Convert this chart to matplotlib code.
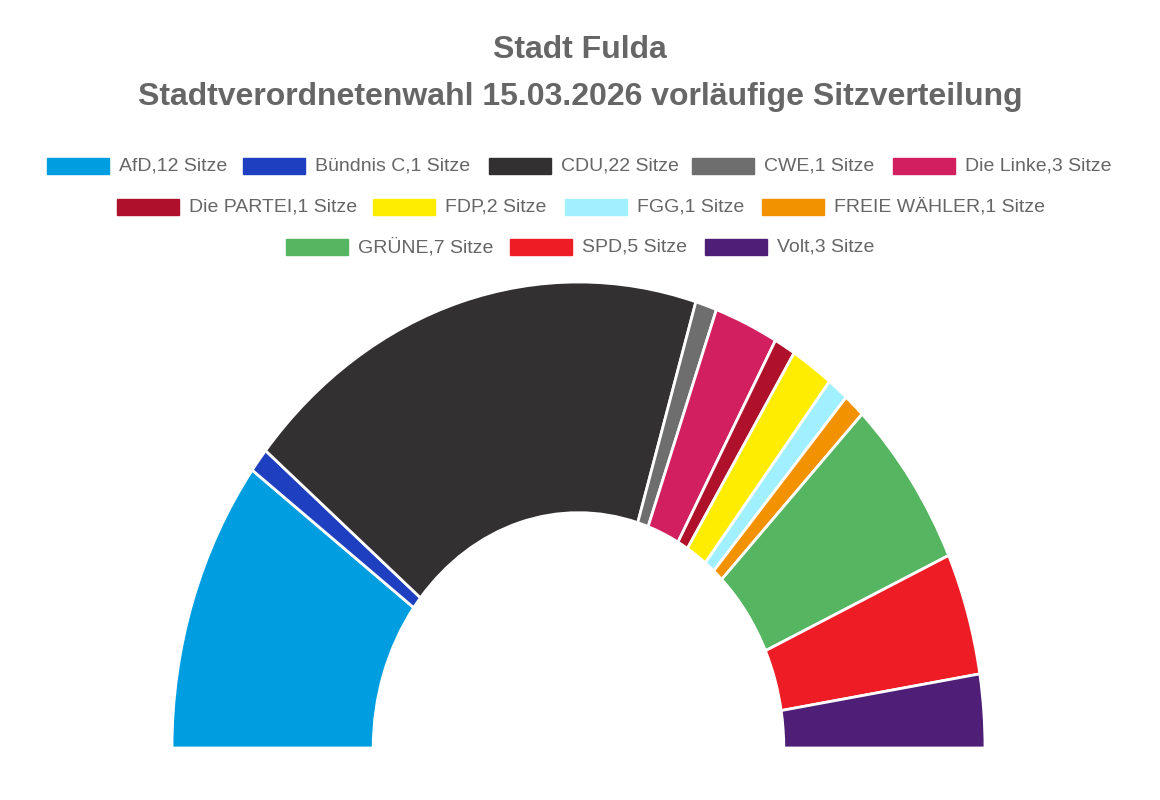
import matplotlib.pyplot as plt
from matplotlib.patches import Rectangle

parties = ["AfD", "Bündnis C", "CDU", "CWE", "Die Linke", "Die PARTEI", "FDP", "FGG",
           "FREIE WÄHLER", "GRÜNE", "SPD", "Volt"]
seats = [12, 1, 22, 1, 3, 1, 2, 1, 1, 7, 5, 3]
colors = ["#009ee0", "#1e3fbf", "#323031", "#6e6e6e", "#d11f5f", "#b0112a", "#ffed00",
          "#a0f0ff", "#f39200", "#55b560", "#ee1c25", "#4f1f78"]

# legend rows: (box left px) for each entry
legend_rows = [[47, 243, 489, 692, 893], [117, 373, 565, 762], [286, 510, 705]]
legend_y = [166, 207, 247]

W, H = 1160, 800
fig = plt.figure(figsize=(W / 100, H / 100), dpi=100)

fig.text(0.5, 1 - 50 / H, "Stadt Fulda", ha="center", va="center",
         fontsize=23, fontweight="bold", color="#666666", family="Liberation Sans")
fig.text(0.5, 1 - 97 / H, "Stadtverordnetenwahl 15.03.2026 vorläufige Sitzverteilung",
         ha="center", va="center", fontsize=23, fontweight="bold", color="#666666",
         family="Liberation Sans")

k = 0
for row, y in zip(legend_rows, legend_y):
    for x in row:
        fig.patches.append(Rectangle((x / W, 1 - (y + 8) / H), 62 / W, 16 / H,
                                     transform=fig.transFigure, color=colors[k]))
        fig.text((x + 72) / W, 1 - y / H, f"{parties[k]},{seats[k]} Sitze", ha="left",
                 va="center", fontsize=14, color="#666666", family="Liberation Sans")
        k += 1

ax = fig.add_axes([172 / W, 52 / H, 813 / W, 466 / H])
total = sum(seats)
ax.pie(seats + [total], colors=colors + ["none"], startangle=180, counterclock=False,
       radius=1, wedgeprops=dict(width=0.495, edgecolor="white", linewidth=2))
ax.patches[-1].set_edgecolor("none")
ax.set_aspect("auto")
ax.set_xlim(-1, 1)
ax.set_ylim(0, 1)
ax.axis("off")

fig.savefig("out.png", dpi=100)
